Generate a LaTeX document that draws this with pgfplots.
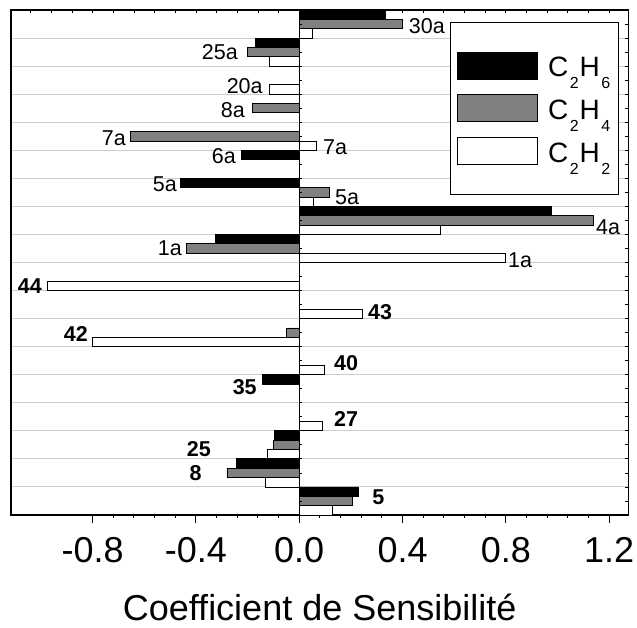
\documentclass[border=0pt]{standalone}
\usepackage{pgfplots}
\pgfplotsset{compat=1.18}
\usepackage{fontspec}
\setmainfont{Liberation Sans}
\definecolor{bargray}{RGB}{128,128,128}
\definecolor{gridgray}{RGB}{205,205,205}
\newcommand{\sub}[1]{\kern1.5pt\raisebox{-11.5pt}{\fontsize{16}{16}\selectfont #1}\kern1pt}
\newcommand{\lab}{\fontsize{21.5}{21.5}\selectfont}
\newcommand{\blab}{\fontsize{21.5}{21.5}\selectfont\bfseries}
\begin{document}
\begin{tikzpicture}
\path[use as bounding box] (0pt,0pt) rectangle (637pt,628pt);
\begin{axis}[
  at={(11pt,113pt)}, anchor=south west,
  scale only axis, width=617.3pt, height=505pt,
  xmin=-1.116, xmax=1.274, ymin=-0.5, ymax=17.5,
  xbar, bar width=0.3333,
  xtick={-0.8,-0.4,0,0.4,0.8,1.2},
  xticklabels={-0.8,-0.4,0.0,0.4,0.8,1.2},
  minor x tick num=4,
  xtick pos=bottom,
  tick align=outside,
  major tick length=8pt, minor tick length=3pt,
  x tick style={black, line width=1pt},
  ytick={0.5,1.5,...,16.5},
  yticklabels={},
  y tick style={draw=none},
  ymajorgrids, grid style={gridgray, line width=1pt},
  axis line style={black, line width=1.3pt},
  xticklabel style={font=\fontsize{36}{36}\selectfont, inner sep=0pt, yshift=-14pt},
  xlabel={Coefficient de Sensibilité},
  xlabel style={font=\fontsize{36}{36}\selectfont, at={(axis description cs:0.5,0)}, anchor=base, yshift=-105.5pt, inner sep=0pt},
  legend style={at={(0.711,0.976)}, anchor=north west, draw=black, line width=0.8pt,
    inner xsep=7pt, inner ysep=29pt, row sep=15pt, font=\fontsize{28}{28}\selectfont,
    nodes={inner sep=0pt, text height=25pt, text depth=2pt}, cells={anchor=west},
    /tikz/every odd column/.append style={column sep=10pt}},
  legend image code/.code={\draw[#1, line width=0.8pt] (0pt,-13.5pt) rectangle (80pt,13.5pt);},
]
% C2H6
\addplot[fill=black, draw=black, line width=0.8pt, bar shift=0.3333] coordinates {
 (0.335,17) (-0.171,16) (-0.223,12) (-0.46,11) (0.977,10) (-0.323,9)
 (-0.143,4) (-0.097,2) (-0.242,1) (0.23,0)};
% C2H4
\addplot[fill=bargray, draw=black, line width=0.8pt, bar shift=0] coordinates {
 (0.40,17) (-0.202,16) (-0.18,14) (-0.655,13) (0.117,11) (1.14,10) (-0.435,9)
 (-0.05,6) (-0.10,2) (-0.28,1) (0.206,0)};
% C2H2
\addplot[fill=white, draw=black, line width=0.8pt, bar shift=-0.3333] coordinates {
 (0.05,17) (-0.116,16) (-0.116,15) (0.066,13) (0.056,11) (0.545,10) (0.80,9)
 (-0.976,8) (0.245,7) (-0.80,6) (0.097,5) (0.09,3) (-0.125,2) (-0.13,1) (0.13,0)};
\legend{C\sub{2}H\sub{6},C\sub{2}H\sub{4},C\sub{2}H\sub{2}}
\draw[black, line width=1.3pt] (axis cs:0,-0.5) -- (axis cs:0,17.5);
\pgfplotsinvokeforeach{0,...,36}{\draw[black, line width=0.8pt] (axis cs:0,{#1*0.5-0.5}) -- ++(3pt,0pt);
  \draw[black, line width=0.8pt] (axis cs:1.274,{#1*0.5-0.5}) -- ++(-3pt,0pt);}
\pgfplotsinvokeforeach{0,...,28}{\draw[black, line width=0.8pt] (axis cs:{-1.04+#1*0.08},17.5) -- ++(0pt,-3pt);}
% labels
\node[anchor=west, inner sep=0pt, font=\lab] at (axis cs:0.424,16.93) {30a};
\node[anchor=east, inner sep=0pt, font=\lab] at (axis cs:-0.237,16.0) {25a};
\node[anchor=east, inner sep=0pt, font=\lab] at (axis cs:-0.141,14.79) {20a};
\node[anchor=east, inner sep=0pt, font=\lab] at (axis cs:-0.210,13.94) {8a};
\node[anchor=east, inner sep=0pt, font=\lab] at (axis cs:-0.671,12.94) {7a};
\node[anchor=west, inner sep=0pt, font=\lab] at (axis cs:0.092,12.62) {7a};
\node[anchor=east, inner sep=0pt, font=\lab] at (axis cs:-0.245,12.30) {6a};
\node[anchor=east, inner sep=0pt, font=\lab] at (axis cs:-0.473,11.30) {5a};
\node[anchor=west, inner sep=0pt, font=\lab] at (axis cs:0.138,10.84) {5a};
\node[anchor=west, inner sep=0pt, font=\lab] at (axis cs:1.149,9.77) {4a};
\node[anchor=east, inner sep=0pt, font=\lab] at (axis cs:-0.454,9.02) {1a};
\node[anchor=west, inner sep=0pt, font=\lab] at (axis cs:0.808,8.59) {1a};
\node[anchor=east, inner sep=0pt, font=\blab] at (axis cs:-0.996,7.66) {44};
\node[anchor=west, inner sep=0pt, font=\blab] at (axis cs:0.266,6.74) {43};
\node[anchor=east, inner sep=0pt, font=\blab] at (axis cs:-0.818,5.95) {42};
\node[anchor=west, inner sep=0pt, font=\blab] at (axis cs:0.134,4.92) {40};
\node[anchor=east, inner sep=0pt, font=\blab] at (axis cs:-0.164,4.06) {35};
\node[anchor=west, inner sep=0pt, font=\blab] at (axis cs:0.134,2.92) {27};
\node[anchor=east, inner sep=0pt, font=\blab] at (axis cs:-0.342,1.85) {25};
\node[anchor=east, inner sep=0pt, font=\blab] at (axis cs:-0.377,1.00) {8};
\node[anchor=west, inner sep=0pt, font=\blab] at (axis cs:0.282,0.14) {5};
\end{axis}
\end{tikzpicture}
\end{document}
